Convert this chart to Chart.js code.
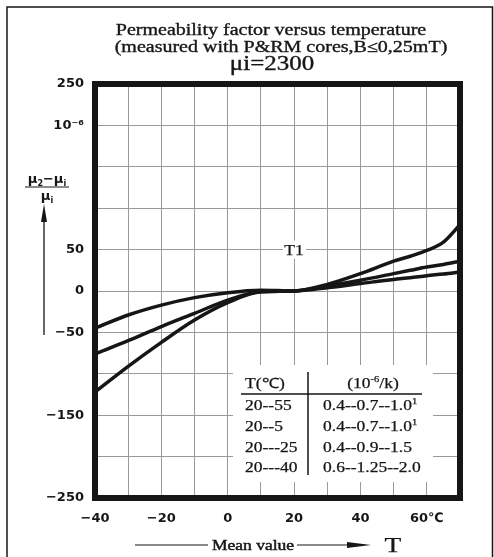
<!DOCTYPE html>
<html>
<head>
<meta charset="utf-8">
<script src="https://cdn.jsdelivr.net/npm/chart.js@4.4.1/dist/chart.umd.min.js"></script>
<style>
  html, body { margin: 0; padding: 0; background: #fff; }
  #wrap { width: 494px; height: 557px; }
</style>
</head>
<body>
<div id="wrap"><canvas id="myChart" width="494" height="557"></canvas></div>
<script>
// temperature points (deg C) and relative permeability change (x 10^-6)
const temps = [-40, -30, -20, -10, 0, 10, 20, 30, 40, 50, 55, 60, 65, 70];
const curveFlat = [-45, -29, -17, -8, -2, 1, 0, 4, 9, 14, 16, 18.5, 20.5, 23];
const curveMid = [-76, -60, -43, -27, -11, -1, 0, 6, 13, 21, 25, 29, 32, 36];
const curveSteep = [-122, -91, -62, -35, -14, -1, 0, 8, 21, 36, 42, 49, 59, 80];

const xLabels = { '-40': '\u221240', '-20': '\u221220', '0': '0', '20': '20', '40': '40', '60': '60\u2103' };
const yLabels = { '250': '250', '200': '10\u207B\u2076', '50': '50', '0': '0', '-50': '\u221250', '-150': '\u2212150', '-250': '\u2212250' };

const tableHead = ['T(\u2103)', '(10-6/k)'];
const tableRange = ['20--55', '20--5', '20---25', '20---40'];
const tableCoef = ['0.4--0.7--1.0', '0.4--0.7--1.0', '0.4--0.9--1.5', '0.6--1.25--2.0'];
const tableNote = ['1', '1', '', ''];

const titleLines = ['Permeability factor versus temperature', '(measured with P&RM cores,B\u22640,25mT)', '\u03BCi=2300'];

const ink = '#161616';
const SERIF = '"Liberation Serif", "Times New Roman", serif';
const SANS = '"DejaVu Sans", sans-serif';

function toPoints(ys) {
    return temps.map((t, i) => ({ x: t, y: ys[i] }));
}

// serif text, stretched a bit wider and slightly heavier like the scanned original
function serifText(ctx, parts, x, y, size, align, heavy) {
    const sx = 1.25;
    const fontOf = p => 'normal ' + (p[1] ? size * 0.6 : size) + 'px ' + SERIF;
    let w = 0;
    parts.forEach(p => { ctx.font = fontOf(p); w += ctx.measureText(p[0]).width * sx; });
    let cx = align === 'center' ? x - w / 2 : x;
    parts.forEach(p => {
        ctx.font = fontOf(p);
        const pw = ctx.measureText(p[0]).width * sx;
        ctx.save();
        ctx.textAlign = 'left';
        ctx.textBaseline = 'alphabetic';
        ctx.fillStyle = ink;
        ctx.strokeStyle = ink;
        ctx.lineWidth = heavy || 0.25;
        ctx.translate(cx, y - (p[1] ? size * 0.42 : 0));
        ctx.scale(sx, 1);
        ctx.fillText(p[0], 0, 0);
        ctx.strokeText(p[0], 0, 0);
        ctx.restore();
        cx += pw;
    });
}

const decor = {
    id: 'decor',
    afterDatasetsDraw(chart) {
        const ctx = chart.ctx;
        const xs = chart.scales.x, ys = chart.scales.y;
        ctx.save();
        // T1 label
        const tx = xs.getPixelForValue(20), ty = ys.getPixelForValue(50);
        ctx.fillStyle = '#fff';
        ctx.fillRect(tx - 11, ty - 9, 23, 18);
        serifText(ctx, [['T1']], tx, ty + 5, 14, 'center');

        // coefficient table
        ctx.fillStyle = '#fff';
        ctx.fillRect(233, 365, 200, 117);
        ctx.strokeStyle = ink;
        ctx.lineWidth = 1.5;
        ctx.beginPath();
        ctx.moveTo(241, 394); ctx.lineTo(422, 394);
        ctx.moveTo(308, 372); ctx.lineTo(308, 475);
        ctx.stroke();
        serifText(ctx, [[tableHead[0]]], 265, 388, 14, 'center');
        serifText(ctx, [['(10'], ['-6', true], ['/k)']], 373, 388, 14, 'center');
        const rowY = [410, 431, 452, 472];
        tableRange.forEach((r, i) => {
            serifText(ctx, [[r]], 245, rowY[i], 14, 'left');
            const parts = [[tableCoef[i]]];
            if (tableNote[i]) parts.push([tableNote[i], true]);
            serifText(ctx, parts, 323, rowY[i], 14, 'left');
        });
        ctx.restore();
    },
    afterDraw(chart) {
        const ctx = chart.ctx;
        const a = chart.chartArea;
        ctx.save();
        // thick plot frame
        ctx.strokeStyle = ink;
        ctx.lineWidth = 6;
        ctx.strokeRect(a.left, a.top, a.right - a.left, a.bottom - a.top);
        // thin page frame
        ctx.lineWidth = 1.5;
        ctx.beginPath();
        ctx.moveTo(7, 560); ctx.lineTo(7, 7); ctx.lineTo(492.5, 7); ctx.lineTo(492.5, 560);
        ctx.stroke();

        // title
        serifText(ctx, [[titleLines[0]]], 271, 35, 16, 'center', 0.35);
        serifText(ctx, [[titleLines[1]]], 281, 52, 16, 'center', 0.35);
        serifText(ctx, [[titleLines[2]]], 272, 70, 20, 'center', 0.35);

        // y axis quantity  (mu2 - mui) / mui
        ctx.fillStyle = ink;
        ctx.textBaseline = 'alphabetic';
        ctx.textAlign = 'left';
        const big = 'bold 13px ' + SANS, small = 'bold 8px ' + SANS;
        const num = [['\u03BC', big, 0], ['2', small, 3], ['\u2212', big, 0], ['\u03BC', big, 0], ['i', small, 3]];
        let w = 0;
        num.forEach(p => { ctx.font = p[1]; w += ctx.measureText(p[0]).width; });
        let cx = 47 - w / 2;
        num.forEach(p => { ctx.font = p[1]; ctx.fillText(p[0], cx, 183 + p[2]); cx += ctx.measureText(p[0]).width; });
        ctx.lineWidth = 1.2;
        ctx.beginPath(); ctx.moveTo(25, 187); ctx.lineTo(69, 187); ctx.stroke();
        const den = [['\u03BC', big, 0], ['i', small, 3]];
        w = 0;
        den.forEach(p => { ctx.font = p[1]; w += ctx.measureText(p[0]).width; });
        cx = 47 - w / 2;
        den.forEach(p => { ctx.font = p[1]; ctx.fillText(p[0], cx, 200 + p[2]); cx += ctx.measureText(p[0]).width; });
        // upward arrow
        ctx.lineWidth = 1.3;
        ctx.beginPath(); ctx.moveTo(44, 335); ctx.lineTo(44, 215); ctx.stroke();
        ctx.beginPath(); ctx.moveTo(44, 204); ctx.lineTo(41, 222); ctx.lineTo(47, 222); ctx.closePath(); ctx.fill();

        // bottom "Mean value -> T"
        ctx.lineWidth = 1.2;
        ctx.beginPath();
        ctx.moveTo(135, 545); ctx.lineTo(208, 545);
        ctx.moveTo(297, 545); ctx.lineTo(355, 545);
        ctx.stroke();
        ctx.beginPath(); ctx.moveTo(371, 545); ctx.lineTo(347, 542); ctx.lineTo(347, 548); ctx.closePath(); ctx.fill();
        serifText(ctx, [['Mean value']], 253, 550, 14, 'center', 0.45);
        serifText(ctx, [['T']], 393, 552, 22, 'center');
        ctx.restore();
    }
};

const lineStyle = {
    borderColor: ink,
    borderWidth: 3.5,
    pointRadius: 0,
    fill: false,
    cubicInterpolationMode: 'monotone'
};

const data = {
    datasets: [
        Object.assign({ label: '20--55', data: toPoints(curveFlat) }, lineStyle),
        Object.assign({ label: '20--5', data: toPoints(curveMid) }, lineStyle),
        Object.assign({ label: '20---40', data: toPoints(curveSteep) }, lineStyle)
    ]
};

const config = {
    type: 'line',
    data: data,
    options: {
        responsive: false,
        animation: false,
        layout: { padding: { top: 84, right: 34, bottom: 0, left: 0 } },
        plugins: { legend: { display: false }, tooltip: { enabled: false } },
        scales: {
            x: {
                type: 'linear',
                min: -40,
                max: 70,
                afterFit(scale) { scale.height = 59; },
                grid: { color: '#9a9a9a', lineWidth: 1, drawTicks: false },
                border: { display: false },
                ticks: {
                    stepSize: 10,
                    padding: 13,
                    maxRotation: 0,
                    autoSkip: false,
                    color: ink,
                    font: { family: SANS, size: 13, weight: 'bold' },
                    callback: v => xLabels[String(v)] || ''
                }
            },
            y: {
                type: 'linear',
                min: -250,
                max: 250,
                afterFit(scale) { scale.width = 95; },
                grid: { color: '#9a9a9a', lineWidth: 1, drawTicks: false },
                border: { display: false },
                ticks: {
                    stepSize: 50,
                    padding: 11,
                    autoSkip: false,
                    color: ink,
                    font: { family: SANS, size: 13, weight: 'bold' },
                    callback: v => yLabels[String(v)] || ''
                }
            }
        }
    },
    plugins: [decor]
};

const myChart = new Chart(document.getElementById('myChart'), config);
</script>
</body>
</html>
